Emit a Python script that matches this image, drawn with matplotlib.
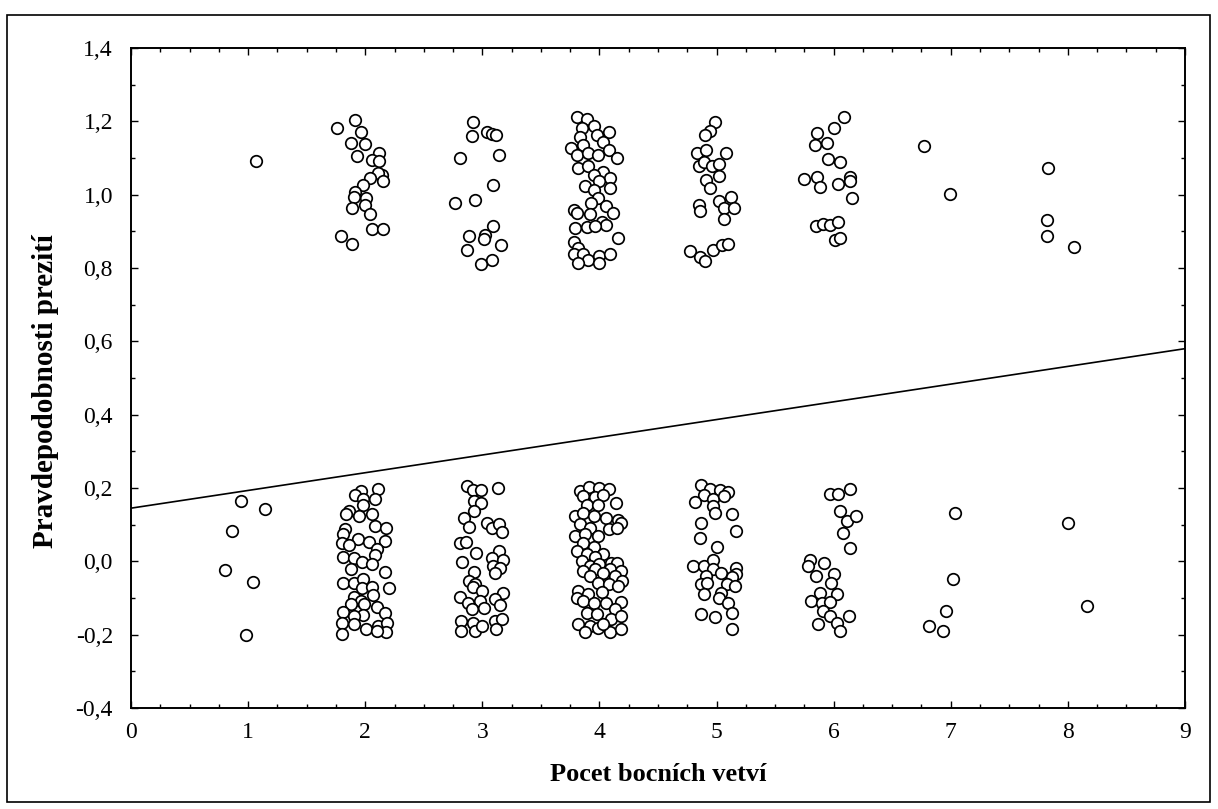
import matplotlib
matplotlib.use("Agg")
import matplotlib.pyplot as plt
from matplotlib.ticker import MultipleLocator, FuncFormatter
from matplotlib.patches import Rectangle

# ---- data (jittered survival indicator vs. number of side branches) ----
x1_hi = [1.07]
y1_hi = [1.093]
x1_lo = [0.94, 1.14, 0.86, 0.80, 1.04, 0.98]
y1_lo = [0.164, 0.144, 0.083, -0.024, -0.056, -0.201]

x2_hi = [1.76, 1.91, 1.96, 1.88, 2.00, 1.93, 2.12, 2.06, 2.12, 2.14, 2.11, 2.15,
         2.04, 1.98, 1.91, 1.90, 2.01, 2.00, 1.89, 2.04, 2.06, 2.15, 1.79, 1.89]
y2_hi = [1.183, 1.204, 1.172, 1.141, 1.138, 1.106, 1.113, 1.095, 1.091, 1.054, 1.059, 1.036,
         1.045, 1.027, 1.006, 0.995, 0.991, 0.973, 0.965, 0.946, 0.907, 0.907, 0.888, 0.866]
x2_lo = [2.11, 1.96, 1.91, 1.98, 2.08, 1.98, 1.86, 1.84, 1.95, 2.06, 2.08, 2.18,
         1.83, 1.81, 1.94, 2.03, 2.17, 1.80, 1.86, 2.10, 2.08, 1.81, 1.90, 1.97,
         2.06, 1.88, 2.17, 1.81, 1.90, 1.98, 1.97, 2.06, 2.20, 1.90, 1.96, 2.07,
         1.99, 1.88, 2.10, 1.81, 2.17, 1.98, 1.90, 1.80, 1.90, 2.01, 2.11, 2.19,
         2.18, 2.10, 1.80]
y2_lo = [0.196, 0.192, 0.180, 0.169, 0.171, 0.155, 0.137, 0.128, 0.124, 0.128, 0.096, 0.092,
         0.087, 0.074, 0.060, 0.053, 0.055, 0.049, 0.044, 0.035, 0.016, 0.013, 0.010, -0.002,
         -0.008, -0.022, -0.029, -0.058, -0.058, -0.049, -0.072, -0.069, -0.072, -0.096, -0.108, -0.093,
         -0.117, -0.117, -0.124, -0.138, -0.140, -0.147, -0.149, -0.169, -0.172, -0.185, -0.176, -0.169,
         -0.194, -0.190, -0.199]

x3_hi = [2.92, 2.91, 3.04, 3.08, 3.12, 2.81, 3.14, 3.09, 2.94, 2.77, 3.09, 3.02,
         3.01, 2.89, 3.16, 2.87, 3.08, 2.99]
y3_hi = [1.197, 1.161, 1.170, 1.165, 1.163, 1.100, 1.109, 1.027, 0.986, 0.977, 0.914, 0.891,
         0.879, 0.888, 0.864, 0.848, 0.823, 0.812]
x3_lo = [2.87, 2.92, 2.99, 3.13, 2.93, 2.99, 2.93, 2.84, 2.89, 3.04, 3.08, 3.14,
         3.17, 2.81, 2.86, 2.95, 3.14, 3.08, 3.18, 2.83, 3.09, 3.15, 3.11, 2.93,
         2.89, 2.94, 2.92, 3.00, 3.18, 2.81, 2.88, 2.98, 3.11, 3.15, 2.91, 3.01,
         2.82, 2.92, 3.11, 3.17, 2.82, 2.94, 3.12, 3.00]
y3_lo = [0.205, 0.194, 0.194, 0.201, 0.164, 0.160, 0.137, 0.119, 0.095, 0.105, 0.092, 0.101,
         0.080, 0.049, 0.053, 0.024, 0.028, 0.010, 0.004, -0.002, -0.013, -0.017, -0.031, -0.029,
         -0.054, -0.063, -0.069, -0.081, -0.087, -0.096, -0.113, -0.108, -0.104, -0.120, -0.129, -0.126,
         -0.163, -0.167, -0.163, -0.156, -0.190, -0.190, -0.185, -0.176]

x4_hi = [3.81, 3.89, 3.95, 3.85, 4.08, 3.98, 3.83, 4.03, 3.76, 3.86, 4.08, 3.81,
         3.90, 3.99, 4.15, 3.82, 3.90, 4.03, 3.95, 4.09, 4.00, 3.88, 3.95, 4.09,
         3.99, 3.93, 4.06, 3.78, 3.81, 3.92, 4.12, 4.02, 4.06, 3.79, 3.89, 3.96,
         4.16, 3.78, 3.82, 3.78, 3.86, 3.90, 4.00, 4.09, 3.82, 4.00]
y4_hi = [1.212, 1.207, 1.186, 1.182, 1.171, 1.163, 1.157, 1.145, 1.127, 1.136, 1.123, 1.109,
         1.114, 1.109, 1.100, 1.073, 1.079, 1.063, 1.054, 1.045, 1.036, 1.023, 1.012, 1.018,
         0.991, 0.977, 0.970, 0.959, 0.950, 0.947, 0.950, 0.925, 0.916, 0.909, 0.912, 0.914,
         0.882, 0.870, 0.855, 0.837, 0.839, 0.823, 0.832, 0.839, 0.814, 0.814]
x4_lo = [3.83, 3.91, 4.00, 4.08, 3.86, 3.96, 4.03, 4.14, 3.89, 3.99, 3.79, 3.86,
         3.95, 4.06, 4.16, 4.18, 3.83, 3.92, 4.08, 4.15, 3.79, 3.88, 3.99, 3.86,
         3.95, 3.81, 3.89, 4.03, 3.96, 3.85, 4.10, 4.15, 3.92, 4.00, 3.86, 3.96,
         4.09, 4.18, 3.92, 4.03, 4.13, 4.19, 3.99, 4.08, 4.16, 3.82, 3.90, 4.02,
         3.81, 3.86, 3.95, 4.06, 4.18, 4.13, 3.89, 3.98, 4.10, 4.18, 3.82, 3.92,
         3.99, 4.09, 4.18, 3.88, 4.03]
y4_lo = [0.192, 0.204, 0.201, 0.196, 0.178, 0.176, 0.180, 0.160, 0.155, 0.153, 0.124, 0.131,
         0.124, 0.119, 0.114, 0.105, 0.101, 0.092, 0.087, 0.092, 0.069, 0.074, 0.069, 0.051,
         0.040, 0.028, 0.019, 0.019, 0.013, 0.001, -0.004, -0.005, -0.013, -0.008, -0.026, -0.022,
         -0.022, -0.026, -0.040, -0.033, -0.040, -0.054, -0.058, -0.063, -0.067, -0.081, -0.090, -0.084,
         -0.099, -0.108, -0.113, -0.114, -0.111, -0.131, -0.140, -0.144, -0.156, -0.149, -0.172, -0.176,
         -0.181, -0.193, -0.185, -0.194, -0.172]

x5_hi = [4.99, 4.94, 4.90, 4.83, 4.91, 5.08, 4.85, 4.89, 4.96, 5.02, 5.02, 4.91,
         4.94, 4.85, 4.86, 5.02, 5.12, 5.06, 5.15, 5.06, 4.77, 4.86, 4.90, 4.97,
         5.05, 5.10]
y5_hi = [1.198, 1.175, 1.163, 1.115, 1.123, 1.114, 1.077, 1.088, 1.077, 1.084, 1.052, 1.041,
         1.018, 0.973, 0.955, 0.982, 0.993, 0.964, 0.964, 0.934, 0.846, 0.830, 0.820, 0.850,
         0.862, 0.866]
x5_lo = [4.87, 4.94, 5.03, 5.10, 4.89, 4.82, 4.97, 5.06, 4.97, 4.99, 5.13, 4.87,
         5.17, 4.86, 5.00, 4.80, 4.89, 4.97, 5.17, 4.97, 5.04, 5.17, 4.91, 5.13,
         4.87, 4.92, 5.09, 5.16, 4.89, 5.04, 5.02, 5.10, 4.87, 4.99, 5.13, 5.13]
y5_lo = [0.207, 0.196, 0.194, 0.189, 0.180, 0.163, 0.169, 0.178, 0.151, 0.133, 0.128, 0.105,
         0.084, 0.065, 0.040, -0.014, -0.014, 0.005, -0.017, -0.022, -0.031, -0.035, -0.040, -0.044,
         -0.063, -0.060, -0.063, -0.067, -0.090, -0.087, -0.099, -0.113, -0.144, -0.153, -0.140, -0.185]

x6_hi = [6.09, 6.00, 5.86, 5.84, 5.94, 5.95, 6.05, 5.75, 5.86, 5.88, 6.04, 6.14,
         6.14, 6.16, 5.85, 5.91, 5.97, 6.04, 6.01, 6.05]
y6_hi = [1.212, 1.182, 1.168, 1.136, 1.141, 1.097, 1.088, 1.043, 1.049, 1.022, 1.030, 1.049,
         1.036, 0.991, 0.914, 0.921, 0.918, 0.925, 0.876, 0.882]
x6_lo = [5.97, 6.04, 6.14, 6.05, 6.11, 6.19, 6.08, 6.14, 5.80, 5.92, 5.78, 5.85,
         6.00, 5.98, 5.88, 6.03, 5.81, 5.90, 5.97, 5.91, 5.97, 6.13, 5.87, 6.03,
         6.05]
y6_lo = [0.183, 0.183, 0.196, 0.137, 0.110, 0.124, 0.078, 0.037, 0.005, -0.005, -0.013, -0.040,
         -0.035, -0.058, -0.087, -0.090, -0.108, -0.113, -0.111, -0.135, -0.149, -0.149, -0.172, -0.169,
         -0.190]

x7_hi = [6.77, 6.99]
y7_hi = [1.134, 1.003]
x7_lo = [7.04, 7.02, 6.96, 6.81, 6.93]
y7_lo = [0.131, -0.047, -0.135, -0.176, -0.190]

x8_hi = [7.83, 7.82, 7.82, 8.05]
y8_hi = [1.074, 0.932, 0.888, 0.858]
x8_lo = [8.00, 8.16]
y8_lo = [0.105, -0.122]

# fitted trend line (end points)
fit_x = [0, 9]
fit_y = [0.145, 0.58]

xticks = [0, 1, 2, 3, 4, 5, 6, 7, 8, 9]
yticks = [-0.4, -0.2, 0.0, 0.2, 0.4, 0.6, 0.8, 1.0, 1.2, 1.4]

# ---- figure ----
W, H = 1218, 809
fig = plt.figure(figsize=(W / 100, H / 100), dpi=100)
plt.rcParams['font.family'] = ['Liberation Serif', 'DejaVu Serif']

L, R, T, B = 131, 1185, 48, 708
ax = fig.add_axes([L / W, 1 - B / H, (R - L) / W, (B - T) / H])

groups = [
    (x1_hi, y1_hi), (x1_lo, y1_lo), (x2_hi, y2_hi), (x2_lo, y2_lo),
    (x3_hi, y3_hi), (x3_lo, y3_lo), (x4_hi, y4_hi), (x4_lo, y4_lo),
    (x5_hi, y5_hi), (x5_lo, y5_lo), (x6_hi, y6_hi), (x6_lo, y6_lo),
    (x7_hi, y7_hi), (x7_lo, y7_lo), (x8_hi, y8_hi), (x8_lo, y8_lo),
]
for gx, gy in groups:
    ax.plot(gx, gy, linestyle='none', marker='o', markersize=8.3,
            markerfacecolor='white', markeredgecolor='black', markeredgewidth=1.25)

ax.plot(fit_x, fit_y, color='black', linewidth=1.2)

ax.set_xlim(0, 9)
ax.set_ylim(-0.4, 1.4)
ax.set_xticks(xticks)
ax.set_yticks(yticks)
ax.xaxis.set_minor_locator(MultipleLocator(0.25))
ax.yaxis.set_minor_locator(MultipleLocator(0.1))
ax.xaxis.set_major_formatter(FuncFormatter(lambda v, p: f"{v:.0f}"))
ax.yaxis.set_major_formatter(FuncFormatter(lambda v, p: f"{v:.1f}".replace('.', ',').replace('-0,0', '0,0')))
ax.tick_params(which='both', direction='in', top=True, right=True, width=1.0)
ax.tick_params(which='major', length=5, labelsize=17)
ax.tick_params(axis='y', which='major', pad=13)
ax.tick_params(axis='x', which='major', pad=10)
ax.tick_params(which='minor', length=3)
for s in ax.spines.values():
    s.set_linewidth(1.4)

ax.set_xlabel("Pocet bocních vetví", fontsize=19, fontweight='bold')
ax.set_ylabel("Pravdepodobnosti prezití", fontsize=21, fontweight='bold')
ax.xaxis.set_label_coords(0.5, -0.083)
ax.yaxis.set_label_coords(-0.068, 0.48)

# outer frame
fig.patches.append(Rectangle((7 / W, 1 - 802 / H), (1210 - 7) / W, (802 - 15) / H,
                             transform=fig.transFigure, fill=False,
                             edgecolor='black', linewidth=1.2))

fig.savefig("out.png", dpi=100)
